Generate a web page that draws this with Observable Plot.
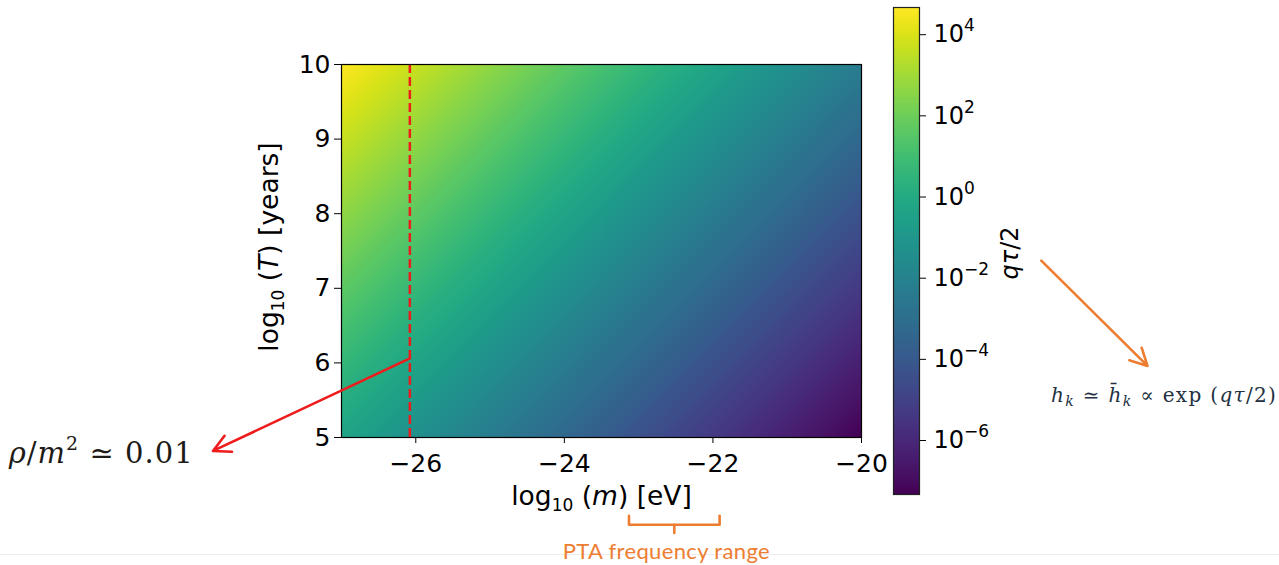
<!DOCTYPE html>
<html>
<head>
<meta charset="utf-8">
<script src="https://cdn.jsdelivr.net/npm/d3@7"></script>
<script src="https://cdn.jsdelivr.net/npm/@observablehq/plot@0.6"></script>
<style>
  html, body { margin: 0; padding: 0; background: #fff; }
  #wrap { position: relative; width: 1279px; height: 565px; overflow: hidden; background: #fff; }
  #wrap svg { position: absolute; left: 0; top: 0; }
  #rule { position: absolute; left: 0; top: 554px; width: 1279px; height: 1px; background: #ececec; }
  text { white-space: pre; }
</style>
</head>
<body>
<div id="wrap"><div id="rule"></div></div>
<script>
// ---------- data ----------
const logM = [-27, -26, -25, -24, -23, -22, -21, -20];      // log10(m) [eV] grid
const logT = [5, 6, 7, 8, 9, 10];                            // log10(T) [years] grid
// log10(q*tau/2) read from the colours at each grid point (rows: logT ascending)
const logQTau = [
  [-0.33, -1.33, -2.33, -3.33, -4.33, -5.33, -6.33, -7.33],  // T = 5
  [ 0.67, -0.33, -1.33, -2.33, -3.33, -4.33, -5.33, -6.33],  // T = 6
  [ 1.67,  0.67, -0.33, -1.33, -2.33, -3.33, -4.33, -5.33],  // T = 7
  [ 2.67,  1.67,  0.67, -0.33, -1.33, -2.33, -3.33, -4.33],  // T = 8
  [ 3.67,  2.67,  1.67,  0.67, -0.33, -1.33, -2.33, -3.33],  // T = 9
  [ 4.67,  3.67,  2.67,  1.67,  0.67, -0.33, -1.33, -2.33]   // T = 10
];
const colorExtent = [-7.33, 4.67];                 // colourbar range (log10)
const xTicks = [-26, -24, -22, -20];
const yTicks = [5, 6, 7, 8, 9, 10];
const cbarTicks = [4, 2, 0, -2, -4, -6];           // exponents on the colourbar

// annotations (data coordinates of the main axes)
const densityLineM = -26.08;
const densityArrow = [{x1: -26.08, y1: 6.06, x2: -28.73, y2: 4.82}];
const densityNote = [{x: -31.48, y: 4.78, text: "ρ/m² ≃ 0.01"}];
const ptaRange = [-23.13, -21.91];
const bracketLevels = [3.95, 3.83, 3.72];
const ptaLabel = [{x: -22.63, y: 3.465, text: "PTA frequency range"}];
const growthArrow = [{x1: -17.58, y1: 7.37, x2: -16.15, y2: 5.96}];
const growthNote = [{x: -17.45, y: 5.56, text: "h_k ≃ h̄_k ∝ exp (qτ/2)"}];

// ---------- derived tables ----------
const cells = logT.flatMap((t, i) => logM.map((m, j) => ({m, t, v: logQTau[i][j]})));
const ptaMid = (ptaRange[0] + ptaRange[1]) / 2;
const bracket = [
  {x: ptaRange[0], y: bracketLevels[0], z: "a"},
  {x: ptaRange[0], y: bracketLevels[1], z: "a"},
  {x: ptaRange[1], y: bracketLevels[1], z: "a"},
  {x: ptaRange[1], y: bracketLevels[0], z: "a"},
  {x: ptaMid, y: bracketLevels[1], z: "b"},
  {x: ptaMid, y: bracketLevels[2], z: "b"}
];
const minus = (d) => (d < 0 ? "\u2212" + Math.abs(d) : String(d));

const W = 1279, H = 565;
const RED = "#ee1c1c", ORANGE = "#ED7D31";
const MATH = "DejaVu Serif";

const main = Plot.plot({
  width: W, height: H,
  marginLeft: 341, marginRight: W - 861, marginTop: 64, marginBottom: H - 437,
  style: {fontFamily: "DejaVu Sans", fontSize: "25px", color: "#000", background: "transparent", overflow: "visible"},
  x: {domain: [-27, -20], ticks: xTicks, tickFormat: minus, tickSize: 6, tickPadding: 11, label: null},
  y: {domain: [5, 10], ticks: yTicks, tickFormat: (d) => String(d), tickSize: 7, tickPadding: 4, label: null},
  color: {type: "linear", scheme: "viridis", domain: colorExtent},
  marks: [
    Plot.raster(cells, {x: "m", y: "t", fill: "v", interpolate: "barycentric", x1: -27, x2: -20, y1: 5, y2: 10}),
    Plot.ruleX([densityLineM], {y1: 5, y2: 10, stroke: RED, strokeWidth: 2.5, strokeDasharray: "9,4"}),
    Plot.frame({stroke: "#000", strokeWidth: 1.2}),
    Plot.arrow(densityArrow, {x1: "x1", y1: "y1", x2: "x2", y2: "y2", stroke: RED, strokeWidth: 2.6, headLength: 11, headAngle: 55}),
    Plot.text(densityNote, {x: "x", y: "y", text: "text", textAnchor: "start", lineAnchor: "middle",
      fontFamily: MATH, fontSize: 29, fill: "#1d1a17"}),
    Plot.line(bracket, {x: "x", y: "y", z: "z", stroke: ORANGE, strokeWidth: 2.6, strokeLinejoin: "round", strokeLinecap: "round"}),
    Plot.text(ptaLabel, {x: "x", y: "y", text: "text", textAnchor: "middle", lineAnchor: "middle",
      fontFamily: "Lato", fontSize: 22, fill: ORANGE}),
    Plot.arrow(growthArrow, {x1: "x1", y1: "y1", x2: "x2", y2: "y2", stroke: ORANGE, strokeWidth: 2.6, headLength: 11, headAngle: 55}),
    Plot.text(growthNote, {x: "x", y: "y", text: "text", textAnchor: "start", lineAnchor: "middle",
      fontFamily: MATH, fontSize: 20, fill: "#223041"}),
    Plot.text(["log10(m) [eV]"], {frameAnchor: "bottom", dy: 67, textAnchor: "middle", lineAnchor: "bottom", fontSize: 26.5, fontFamily: "DejaVu Sans"}),
    Plot.text(["log10(T) [years]"], {frameAnchor: "left", dx: -72, dy: -4, rotate: -90, textAnchor: "middle", lineAnchor: "middle", fontSize: 26.5, fontFamily: "DejaVu Sans"})
  ]
});

const cMinV = 10 ** colorExtent[0], cMaxV = 10 ** colorExtent[1];
const cbar = Plot.plot({
  width: W, height: H,
  marginLeft: 893, marginRight: W - 919, marginTop: 7, marginBottom: H - 494,
  style: {fontFamily: "DejaVu Sans", fontSize: "24px", color: "#000", background: "transparent", overflow: "visible"},
  x: {domain: [0, 1], axis: null},
  y: {type: "log", domain: [cMinV, cMaxV], axis: "right",
      ticks: cbarTicks.map((e) => 10 ** e), tickFormat: (d) => "10^" + Math.round(Math.log10(d)),
      tickSize: 6, tickPadding: 8, label: null},
  color: {type: "linear", scheme: "viridis", domain: colorExtent},
  marks: [
    Plot.ruleX([0, 1], {y1: cMinV, y2: cMaxV, stroke: "none"}),
    Plot.raster({fill: (x, y) => Math.log10(y), x1: 0, x2: 1, y1: cMinV, y2: cMaxV}),
    Plot.frame({stroke: "#222", strokeWidth: 1.2}),
    Plot.text(["qτ/2"], {frameAnchor: "right", dx: 91, dy: 2, rotate: -90, textAnchor: "middle", lineAnchor: "middle", fontSize: 24, fontFamily: "DejaVu Sans"})
  ]
});

const wrap = document.getElementById("wrap");
wrap.appendChild(main);
wrap.appendChild(cbar);

// ---------- rich text (italics, sub/superscripts) ----------
function rich(svg, plain, parts, opts = {}) {
  d3.select(svg).selectAll("text").filter(function () { return this.textContent === plain; }).each(function () {
    const t = d3.select(this);
    t.text(null);
    let shift = 0;
    for (const p of parts) {
      const s = t.append("tspan").text(p.t);
      if (p.i) s.attr("font-style", "italic");
      if (p.fs) s.attr("font-size", p.fs);
      const target = p.shift || 0;
      if (target !== shift) { s.attr("dy", target - shift); shift = target; }
    }
    if (opts.len) t.attr("textLength", opts.len).attr("lengthAdjust", "spacing");
  });
}
rich(main, "log10(m) [eV]", [{t: "log"}, {t: "10", fs: 17, shift: 6}, {t: " ("}, {t: "m", i: 1}, {t: ") [eV]"}]);
rich(main, "log10(T) [years]", [{t: "log"}, {t: "10", fs: 17, shift: 6}, {t: " ("}, {t: "T", i: 1}, {t: ") [years]"}]);
rich(main, "ρ/m² ≃ 0.01", [{t: "ρ", i: 1}, {t: "/"}, {t: "m", i: 1}, {t: "2", fs: 19, shift: -13}, {t: " ≃ 0.01"}], {len: 184});
rich(main, "h_k ≃ h̄_k ∝ exp (qτ/2)", [{t: "h", i: 1}, {t: "k", i: 1, fs: 14, shift: 4}, {t: " ≃ "}, {t: "h\u0304", i: 1},
  {t: "k", i: 1, fs: 14, shift: 4}, {t: " ∝ exp ("}, {t: "q", i: 1}, {t: "τ", i: 1}, {t: "/2)"}], {len: 225});
rich(main, "PTA frequency range", [{t: "PTA frequency range"}], {len: 207});
rich(cbar, "qτ/2", [{t: "q", i: 1}, {t: "τ", i: 1}, {t: "/2"}]);
d3.select(cbar).selectAll("text").each(function () {
  const m = /^10\^(-?\d+)$/.exec(this.textContent);
  if (!m) return;
  const e = +m[1];
  rich(cbar, this.textContent, [{t: "10"}, {t: e < 0 ? "\u2212" + Math.abs(e) : String(e), fs: 17, shift: -11}]);
});
</script>
</body>
</html>
